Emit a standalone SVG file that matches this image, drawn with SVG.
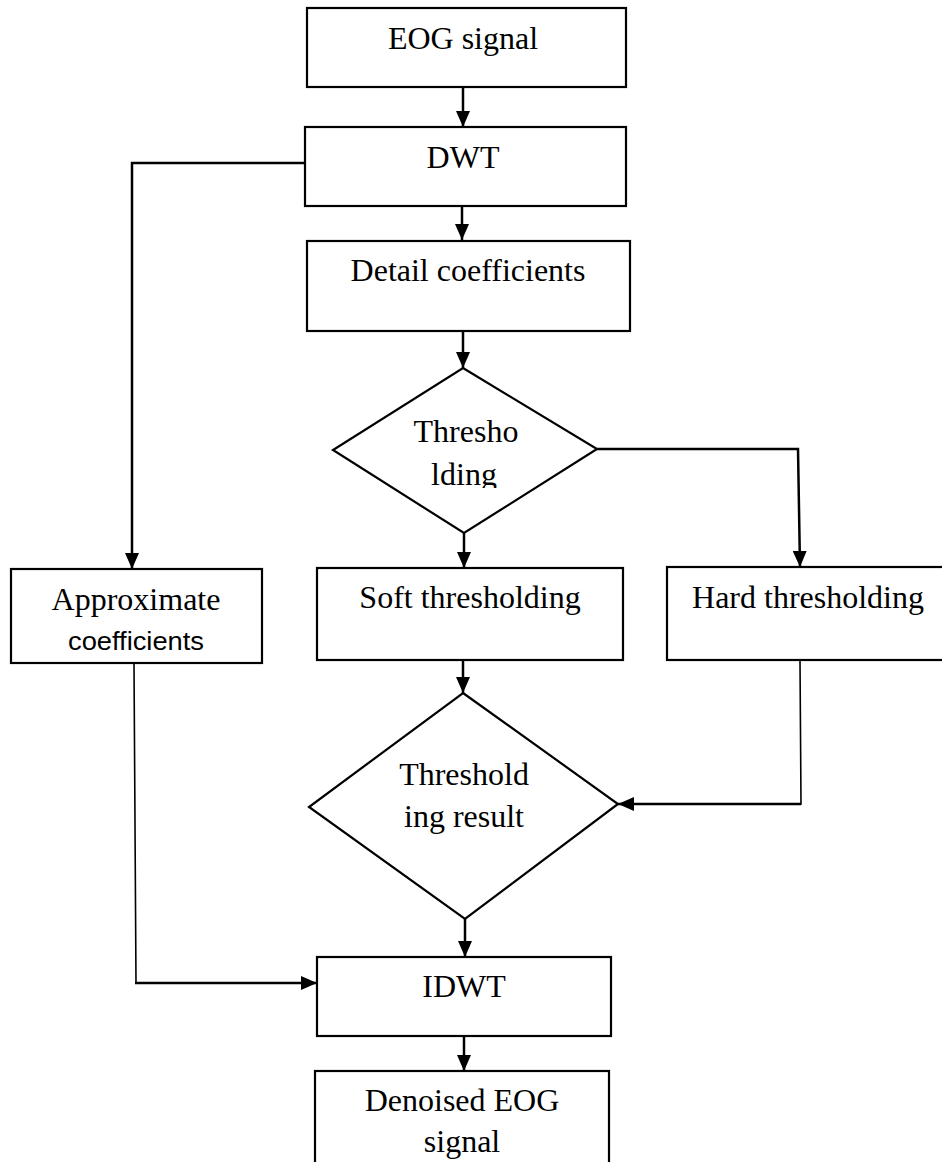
<svg xmlns="http://www.w3.org/2000/svg" width="942" height="1162" viewBox="0 0 942 1162">
<style>
.box{fill:#fff;stroke:#000;stroke-width:2.2}
.t{font-family:"Liberation Serif","Times New Roman",serif;font-size:32px;fill:#000;text-anchor:middle}
.s{font-family:"Liberation Sans",Arial,sans-serif;font-size:26px;fill:#000;text-anchor:middle}
.c{fill:none;stroke:#000;stroke-width:2.5}
.thin{fill:none;stroke:#000;stroke-width:1.6}
</style>
<defs>
<marker id="ah" viewBox="0 0 16 14" refX="16" refY="7" markerWidth="16" markerHeight="14" markerUnits="userSpaceOnUse" orient="auto">
<path d="M0,0 L16,7 L0,14 z" fill="#000"/>
</marker>
<clipPath id="clipD1"><rect x="0" y="0" width="942" height="488"/></clipPath>
</defs>
<rect width="942" height="1162" fill="#fff"/>
<g id="connectors">
<line class="c" x1="463" y1="87" x2="463" y2="127" marker-end="url(#ah)"/>
<line class="c" x1="462" y1="206" x2="462" y2="240" marker-end="url(#ah)"/>
<line class="c" x1="463" y1="331" x2="463" y2="368" marker-end="url(#ah)"/>
<polyline class="c" points="305,163 132,163 132,569" marker-end="url(#ah)"/>
<line class="c" x1="464" y1="533" x2="464" y2="568" marker-end="url(#ah)"/>
<polyline class="c" points="597,449 798,449 800,567" marker-end="url(#ah)"/>
<line class="c" x1="463" y1="660" x2="463" y2="693" marker-end="url(#ah)"/>
<polyline class="thin" points="800,661 801,804 640,804"/>
<line class="c" x1="801" y1="804" x2="618" y2="804" marker-end="url(#ah)"/>
<polyline class="thin" points="134,664 136,983 300,983"/>
<line class="c" x1="135" y1="983" x2="317" y2="983" marker-end="url(#ah)"/>
<line class="c" x1="465" y1="919" x2="465" y2="957" marker-end="url(#ah)"/>
<line class="c" x1="464" y1="1036" x2="464" y2="1071" marker-end="url(#ah)"/>
</g>
<g id="eog">
<rect class="box" x="307" y="8" width="319" height="79"/>
<text class="t" x="463" y="49">EOG signal</text>
</g>
<g id="dwt">
<rect class="box" x="305" y="127" width="321" height="79"/>
<text class="t" x="463" y="168">DWT</text>
</g>
<g id="detail">
<rect class="box" x="307" y="241" width="323" height="90"/>
<text class="t" x="468" y="281">Detail coefficients</text>
</g>
<g id="thresholding">
<polygon class="box" points="463,368 597,449 464,533 333,450"/>
<text class="t" x="466" y="442">Thresho</text>
<text class="t" x="464" y="485" clip-path="url(#clipD1)">lding</text>
</g>
<g id="approx">
<rect class="box" x="11" y="569" width="251" height="94"/>
<text class="t" x="136" y="610">Approximate</text>
<text class="s" x="136" y="650" textLength="136" lengthAdjust="spacingAndGlyphs">coefficients</text>
</g>
<g id="soft">
<rect class="box" x="317" y="568" width="306" height="92"/>
<text class="t" x="470" y="608">Soft thresholding</text>
</g>
<g id="hard">
<rect class="box" x="667" y="567" width="280" height="93"/>
<text class="t" x="808" y="608">Hard thresholding</text>
</g>
<g id="result">
<polygon class="box" points="463,693 618,804 465,919 309,807"/>
<text class="t" x="464" y="785">Threshold</text>
<text class="t" x="464" y="827">ing result</text>
</g>
<g id="idwt">
<rect class="box" x="317" y="957" width="294" height="79"/>
<text class="t" x="464" y="997">IDWT</text>
</g>
<g id="denoised">
<rect class="box" x="315" y="1071" width="294" height="100"/>
<text class="t" x="462" y="1111">Denoised EOG</text>
<text class="t" x="462" y="1152">signal</text>
</g>
</svg>
